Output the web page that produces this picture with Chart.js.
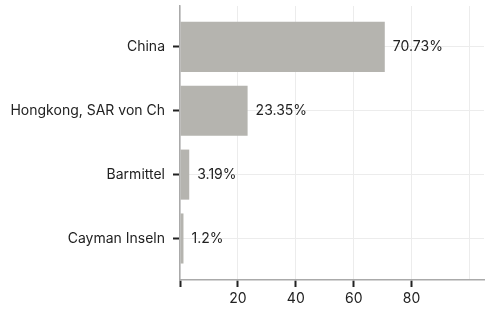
<!DOCTYPE html>
<html>
<head>
<meta charset="utf-8">
<script src="https://cdn.jsdelivr.net/npm/chart.js@4"></script>
<style>
  html, body { margin: 0; padding: 0; background: #fff; }
  #wrap { width: 489px; height: 311px; }
</style>
</head>
<body>
<div id="wrap"><canvas id="holdingsChart"></canvas></div>
<script>
const categories = ['China', 'Hongkong, SAR von Ch', 'Barmittel', 'Cayman Inseln'];
const shares = [70.73, 23.35, 3.19, 1.2];
const xTickLabels = [20, 40, 60, 80];
const xTickMarks = [0, 20, 40, 60, 80];

// draws the percentage text right of each bar
const valueLabels = {
  id: 'valueLabels',
  afterDatasetsDraw(chart) {
    const ctx = chart.ctx;
    const meta = chart.getDatasetMeta(0);
    ctx.save();
    ctx.font = '14px Inter';
    ctx.fillStyle = '#222';
    ctx.textBaseline = 'middle';
    meta.data.forEach((bar, i) => {
      ctx.fillText(shares[i] + '%', bar.x + 8, bar.y);
    });
    ctx.restore();
  }
};

const ctx = document.getElementById('holdingsChart').getContext('2d');

new Chart(ctx, {
  type: 'bar',
  data: {
    datasets: [{
      data: shares.map((v, i) => ({ x: v, y: i })),
      backgroundColor: '#b5b4af',
      borderWidth: 0,
      barPercentage: 0.98,
      categoryPercentage: 0.8
    }]
  },
  options: {
    indexAxis: 'y',
    responsive: true,
    maintainAspectRatio: false,
    animation: false,
    layout: { padding: { top: 6, right: 5, left: 0, bottom: 0 } },
    plugins: {
      legend: { display: false },
      tooltip: { enabled: false }
    },
    scales: {
      x: {
        type: 'linear',
        min: 0,
        max: 105,
        afterFit: s => { s.height = 31; s.paddingLeft = 0; s.paddingRight = 0; },
        border: { color: '#aaa', width: 1.5 },
        grid: {
          color: '#ececec',
          tickLength: 7,
          tickColor: c => xTickMarks.includes(c.tick.value) ? '#222' : 'rgba(0,0,0,0)',
          tickWidth: 2
        },
        ticks: {
          stepSize: 20,
          includeBounds: false,
          color: '#222',
          padding: 3,
          font: { family: 'Inter', size: 14 },
          callback: v => xTickLabels.includes(v) ? v : ''
        }
      },
      y: {
        type: 'linear',
        reverse: true,
        offset: false,
        min: -0.64,
        max: 3.65,
        afterFit: s => { s.width = 180; s.paddingTop = 0; s.paddingBottom = 0; },
        border: { color: '#aaa', width: 1.5 },
        grid: {
          offset: false,
          color: '#ececec',
          tickLength: 7,
          tickColor: '#222',
          tickWidth: 2
        },
        ticks: {
          stepSize: 1,
          includeBounds: false,
          color: '#222',
          padding: 8,
          font: { family: 'Inter', size: 14 },
          callback: v => categories[v] !== undefined ? categories[v] : ''
        }
      }
    }
  },
  plugins: [valueLabels]
});
</script>
</body>
</html>
